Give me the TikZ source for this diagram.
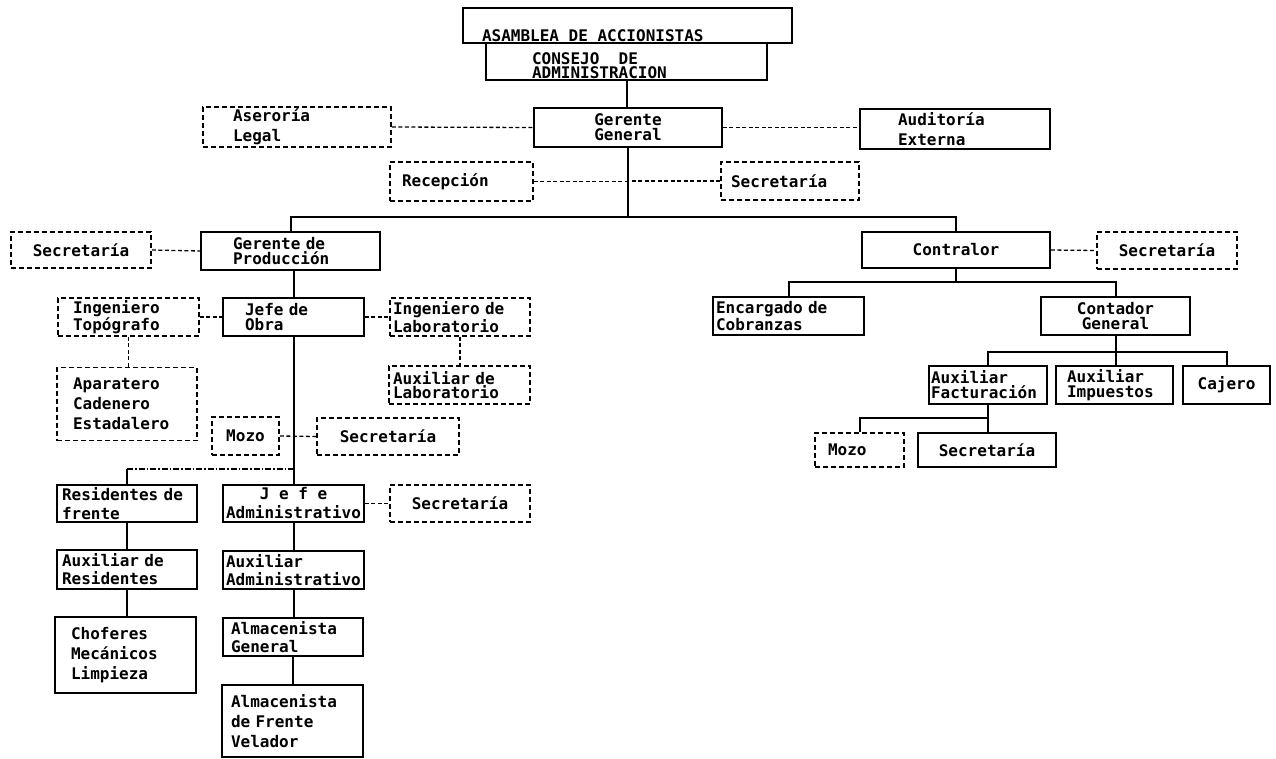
\documentclass[tikz,border=0pt]{standalone}
\usepackage{fontspec}
\newfontfamily\orgfont{DejaVu Sans Mono}
\usepackage{tikz}
\usetikzlibrary{positioning, calc}

% text sitting on the lower edge of a box
\newcommand{\lowtext}[3]{\parbox[b][#2][b]{#1}{\raggedright #3}}

\begin{document}
\begin{tikzpicture}[
    x=1pt, y=-1pt,
    % Node styles
    unit/.style={rectangle, draw=black, line width=1.8pt, inner sep=0pt, align=center, font=\orgfont\bfseries\fontsize{16pt}{15pt}\selectfont},
    staff/.style={unit, dash pattern=on 5pt off 3pt},
    ltext/.style={align=left, text width=#1},
    spread/.style={font=\orgfont\bfseries\fontsize{16pt}{#1}\selectfont},
    conn/.style={line width=2pt},
    link/.style={line width=1.3pt, dash pattern=on 4pt off 2.5pt},
    busdash/.style={line width=1.3pt, dash pattern=on 6pt off 2pt on 1.5pt off 2pt}
]
\useasboundingbox (0,0) rectangle (1276,758);

% TOP
\node[unit, minimum width=329pt, minimum height=35pt] (asamblea) at (627.5,25.5) {\lowtext{291pt}{33pt}{ASAMBLEA DE ACCIONISTAS}};
\node[unit, minimum width=281pt, minimum height=37pt] (consejo) at (626.5,61.5) {\lowtext{189pt}{35pt}{\fontsize{16pt}{14.5pt}\selectfont CONSEJO~~DE\\ADMINISTRACION}};
\node[unit, minimum width=188pt, minimum height=39pt, spread=15pt] (gerente) at (628,127.5) {Gerente\\General};
\node[staff, minimum width=188pt, minimum height=40pt, ltext=128pt, spread=20pt] (asesoria) at (297,127) {Aseroría\\Legal};
\node[unit, minimum width=190pt, minimum height=40pt, ltext=114pt, spread=20pt] (auditoria) at (955,129) {Auditoría\\Externa};
\node[staff, minimum width=143pt, minimum height=39pt, ltext=119pt] (recepcion) at (461.5,181.5) {Recepción};
\node[staff, minimum width=138pt, minimum height=38pt, ltext=118pt] (secgerente) at (790,181) {Secretaría};

\coordinate (busprod) at (0,217);

\draw[conn] (consejo.south) -- (consejo.south |- gerente.north);
\draw[link] (asesoria.east) -- (gerente.west);
\draw[link] (gerente.east) -- (gerente.east -| auditoria.west);
\draw[conn] (gerente.south) -- (gerente.south |- busprod);
\draw[link] (recepcion.east) -- (recepcion.east -| gerente.south);
\draw[link] (secgerente.west) -- (secgerente.west -| gerente.south);

% PRODUCCION
\node[staff, minimum width=140pt, minimum height=36pt] (secprod) at (81,250) {Secretaría};
\node[unit, minimum width=179pt, minimum height=38pt, ltext=115pt] (produccion) at (290.5,251) {Gerente de\\Producción};
\node[staff, minimum width=141pt, minimum height=38pt, ltext=111pt] (topografo) at (128.5,317) {Ingeniero\\Topógrafo};
\node[unit, minimum width=141pt, minimum height=38pt, ltext=97pt] (jefeobra) at (293.5,317) {Jefe de\\Obra};
\node[staff, minimum width=140pt, minimum height=38pt, ltext=134pt] (inglab) at (460,317) {Ingeniero de\\Laboratorio};
\node[staff, minimum width=141pt, minimum height=38pt, ltext=133pt, spread=14pt] (auxlab) at (459.5,385) {Auxiliar de\\Laboratorio};
\node[staff, minimum width=140pt, minimum height=73pt, ltext=108pt, spread=20pt] (aparatero) at (127,404) {Aparatero\\Cadenero\\Estadalero};
\node[staff, minimum width=67pt, minimum height=38pt] (mozoobra) at (245.5,436) {Mozo};
\node[staff, minimum width=142pt, minimum height=37pt] (secobra) at (388,436.5) {Secretaría};

\coordinate (busobra) at (0,469);

\node[unit, minimum width=140pt, minimum height=37pt, ltext=130pt, spread=19pt] (residentes) at (127,503.5) {Residentes de\\frente};
\node[unit, minimum width=141pt, minimum height=37pt, spread=19pt] (jefeadmin) at (293.5,503.5) {J e f e\\Administrativo};
\node[staff, minimum width=140pt, minimum height=37pt] (secadmin) at (460,503.5) {Secretaría};
\node[unit, minimum width=140pt, minimum height=39pt, ltext=130pt, spread=18pt] (auxres) at (127,569.5) {Auxiliar de\\Residentes};
\node[unit, minimum width=141pt, minimum height=38pt, ltext=135pt, spread=18pt] (auxadmin) at (293.5,570) {Auxiliar\\Administrativo};
\node[unit, minimum width=141pt, minimum height=76pt, ltext=109pt, spread=20pt] (choferes) at (125.5,655) {Choferes\\Mecánicos\\Limpieza};
\node[unit, minimum width=140pt, minimum height=38pt, ltext=124pt, spread=18pt] (almgen) at (293,637) {Almacenista\\General};
\node[unit, minimum width=141pt, minimum height=72pt, ltext=123pt, spread=20pt] (almfrente) at (292.5,721) {Almacenista\\de Frente\\Velador};

\draw[link] (secprod.east) -- (produccion.west);
\draw[conn] (jefeobra.north) -- (jefeobra.north |- produccion.south);
\draw[link] (topografo.east) -- (jefeobra.west);
\draw[link] (jefeobra.east) -- (inglab.west);
\draw[link] (topografo.south) -- (topografo.south |- aparatero.north);
\draw[link] (inglab.south) -- (inglab.south |- auxlab.north);
\draw[conn] (jefeobra.south) -- (jefeadmin.north);
\draw[link] (mozoobra.east) -- (secobra.west);
\draw[busdash] (residentes.north |- busobra) -- (jefeobra.south |- busobra);
\draw[conn] (residentes.north) -- (residentes.north |- busobra);
\draw[link] (jefeadmin.east) -- (secadmin.west);
\draw[conn] (residentes.south) -- (auxres.north);
\draw[conn] (auxres.south) -- (auxres.south |- choferes.north);
\draw[conn] (jefeadmin.south) -- (auxadmin.north);
\draw[conn] (auxadmin.south) -- (auxadmin.south |- almgen.north);
\draw[conn] (almgen.south) -- (almgen.south |- almfrente.north);

% CONTRALOR
\node[unit, minimum width=188pt, minimum height=36pt] (contralor) at (956,250) {Contralor};
\node[staff, minimum width=140pt, minimum height=37pt] (seccontr) at (1167,250.5) {Secretaría};
\node[unit, minimum width=151pt, minimum height=38pt, ltext=145pt, spread=15pt] (encargado) at (788.5,316) {Encargado de\\Cobranzas};
\node[unit, minimum width=149pt, minimum height=38pt, spread=14.5pt] (contador) at (1115.5,316) {Contador\\General};
\node[unit, minimum width=118pt, minimum height=38pt, ltext=114pt, spread=15pt] (factura) at (988,385) {Auxiliar\\Facturación};
\node[unit, minimum width=117pt, minimum height=38pt, ltext=95pt, spread=15pt] (impuestos) at (1114.5,385) {Auxiliar\\Impuestos};
\node[unit, minimum width=87pt, minimum height=38pt] (cajero) at (1226.5,385) {Cajero};
\node[staff, minimum width=89pt, minimum height=34pt, ltext=63pt] (mozofact) at (859.5,450) {Mozo};
\node[unit, minimum width=138pt, minimum height=34pt] (secfact) at (987,450) {Secretaría};

\coordinate (buscontr) at (0,282);
\coordinate (buscont) at (0,352);
\coordinate (busfact) at (0,418);

\draw[conn] (produccion.north) -- (produccion.north |- busprod) -| (contralor.north);
\draw[link] (contralor.east) -- (seccontr.west);
\draw[conn] (contralor.south) -- (contralor.south |- buscontr);
\draw[conn] (encargado.north) -- (encargado.north |- buscontr) -| (contador.north);
\draw[conn] (contador.south) -- (contador.south |- impuestos.north);
\draw[conn] (factura.north) -- (factura.north |- buscont) -| (cajero.north);
\draw[conn] (factura.south) -- (factura.south |- secfact.north);
\draw[conn] (mozofact.north) -- (mozofact.north |- busfact) -- (factura.south |- busfact);

\end{tikzpicture}
\end{document}
